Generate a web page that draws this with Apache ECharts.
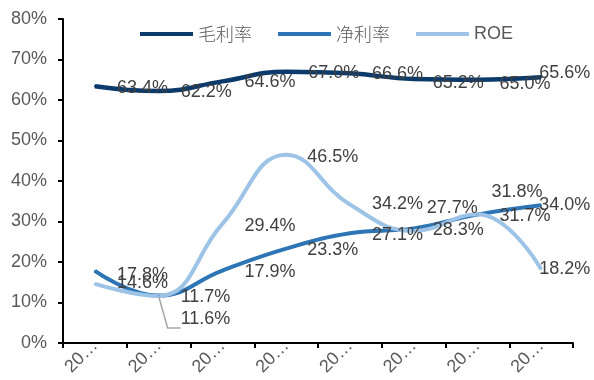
<!DOCTYPE html>
<html><head><meta charset="utf-8">
<script src="https://cdn.jsdelivr.net/npm/echarts@6/dist/echarts.min.js"></script>
<style>html,body{margin:0;padding:0;background:#fff}#c{width:594px;height:380px}</style>
</head><body><div id="c"></div>
<script>
var categories = ['2016','2017','2018','2019','2020','2021','2022','2023'];
var grossMargin = [63.4, 62.2, 64.6, 67.0, 66.6, 65.2, 65.0, 65.6];
var netMargin = [17.8, 11.7, 17.9, 23.3, 27.1, 28.3, 31.7, 34.0];
var roe = [14.6, 11.6, 29.4, 46.5, 34.2, 27.7, 31.8, 18.2];
var seriesNames = ['毛利率', '净利率', 'ROE'];
var yTicks = {min: 0, max: 80, interval: 10};

var FONT = '"Liberation Sans", Arial, "Noto Sans CJK SC", sans-serif';
var labelOffsets = [
  [[0,2],[0,1],[0,1],[0,1],[0,1],[-3,4],[0,4],[-24,-4]],
  [[0,4],[0,1],[0,2],[-1,1],[0,2],[-3,2],[0,1],[-24,0]],
  [[0,-1],[-9,23],[0,2],[-1,2],[0,0],[-9,-23],[-8,-22],[-24,0]]
];
var colors = ['#0B3A6B', '#2E75B6', '#9DC3E6'];
var widths = [4.5, 4, 4];
var datasets = [grossMargin, netMargin, roe];

function buildData(vals, si) {
  return vals.map(function (v, i) {
    var o = {value: v, label: {offset: labelOffsets[si][i]}};
    if (si === 2 && i === 1) {
      o.label.padding = [0, 0, 0, 9];
      o.labelLine = {show: true, length2: 13, smooth: false, lineStyle: {color: '#A6A6A6', width: 1.5}};
    }
    return o;
  });
}

var chart = echarts.init(document.getElementById('c'), null, {renderer: 'canvas'});
chart.setOption({
  animation: false,
  backgroundColor: '#fff',
  textStyle: {fontFamily: FONT},
  legend: {
    top: 20,
    left: 135,
    itemWidth: 53,
    itemHeight: 4,
    itemGap: 26,
    icon: 'rect',
    formatter: function (n) { return n === 'ROE' ? '{b|' + n + '}' : '{a|' + n + '}'; },
    textStyle: {
      fontSize: 18, color: '#595959', fontFamily: FONT,
      rich: {
        a: {fontSize: 18, color: '#595959', fontFamily: '"Noto Sans CJK SC", sans-serif', fontWeight: 300},
        b: {fontSize: 18, color: '#595959', fontFamily: FONT}
      }
    },
    data: seriesNames
  },
  grid: {left: 63, right: 21, top: 19, bottom: 37, containLabel: false, outerBoundsMode: 'none'},
  xAxis: {
    type: 'category',
    data: categories,
    boundaryGap: true,
    axisLine: {lineStyle: {color: '#000', width: 2}},
    axisTick: {show: true, length: 5, lineStyle: {color: '#000', width: 2}},
    axisLabel: {rotate: 45, fontSize: 18, color: '#595959', margin: 0, width: 40, overflow: 'truncate', ellipsis: '…', fontFamily: FONT}
  },
  yAxis: {
    type: 'value',
    min: yTicks.min, max: yTicks.max, interval: yTicks.interval,
    splitLine: {show: false},
    axisLine: {show: true, lineStyle: {color: '#000', width: 2}},
    axisTick: {show: true, length: 5, lineStyle: {color: '#000', width: 2}},
    axisLabel: {formatter: '{value}%', fontSize: 18, color: '#595959', margin: 16, fontFamily: FONT}
  },
  series: datasets.map(function (vals, si) {
    return {
      name: seriesNames[si],
      type: 'line',
      smooth: 0.45,
      data: buildData(vals, si),
      symbol: 'circle',
      symbolSize: 2,
      showSymbol: true,
      itemStyle: {color: colors[si]},
      lineStyle: {color: colors[si], width: widths[si]},
      label: {
        show: true,
        position: 'right',
        distance: 21,
        fontSize: 18,
        color: '#404040',
        fontFamily: FONT,
        formatter: function (p) { return p.value.toFixed(1) + '%'; }
      },
      labelLine: {show: false},
      emphasis: {disabled: true}
    };
  })
});
</script></body></html>
